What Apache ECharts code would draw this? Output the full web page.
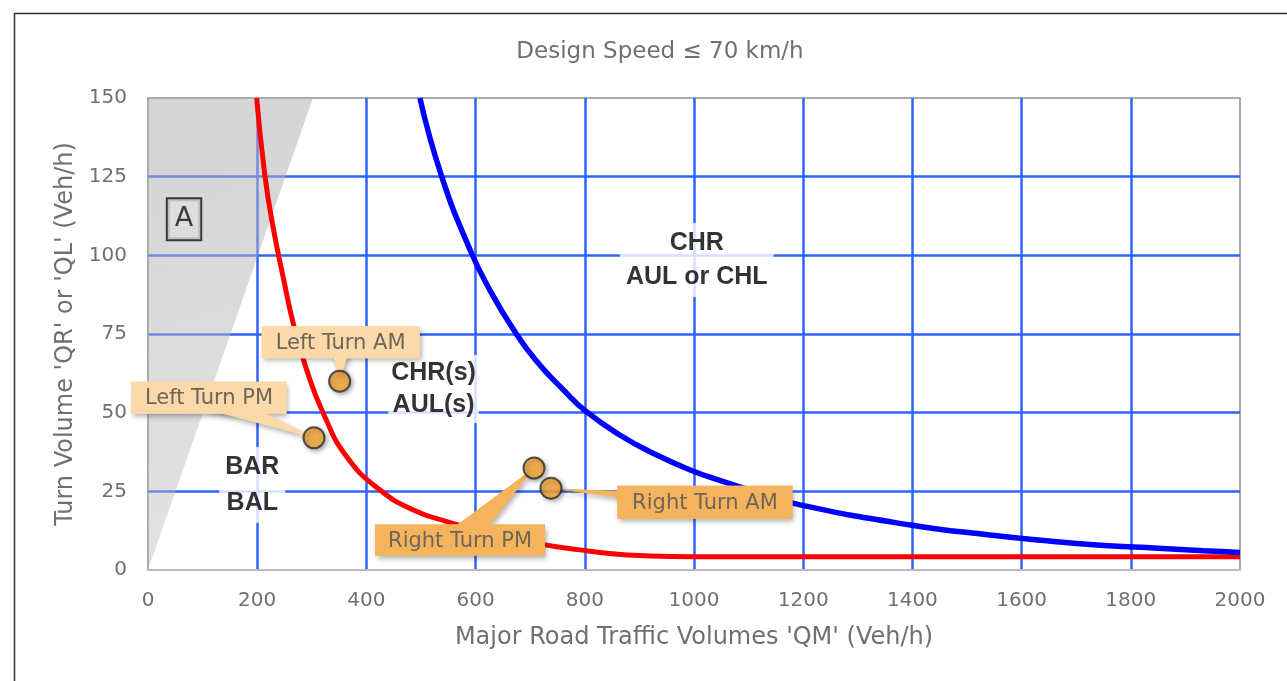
<!DOCTYPE html>
<html>
<head>
<meta charset="utf-8">
<script src="https://cdn.jsdelivr.net/npm/echarts@6/dist/echarts.min.js"></script>
<style>html,body{margin:0;padding:0;background:#fff;}#c{width:1287px;height:681px;}</style>
</head>
<body>
<div id="c"></div>
<script>
// ---- data ----
const xTicks = [0, 200, 400, 600, 800, 1000, 1200, 1400, 1600, 1800, 2000];
const yTicks = [0, 25, 50, 75, 100, 125, 150];
// red boundary curve (BAR/BAL vs CHR(s)/AUL(s))
const redCurve = [[199,150],[214,125.5],[229.5,108.6],[248,92.7],[266,78.4],[290.6,63.6],[321,49.8],[364,36],[425,25.4],[486,19.1],[547,15.4],[640,11],[730,7.9],[791,6.4],[850,5.2],[900,4.6],[1000,4.2],[1200,4.2],[1500,4.2],[2000,4.2]];
// blue boundary curve (CHR(s)/AUL(s) vs CHR / AUL or CHL)
const blueCurve = [[498,150],[538,125],[590,101.7],[626,89],[669,76.5],[711,66.5],[761,57.2],[803,50.3],[864,42.9],[925,37.1],[993,31.8],[1054,28.1],[1121,24.4],[1194,20.7],[1396,14.3],[1542,11.1],[1650,9.2],[1744,7.9],[1850,6.9],[1933,6.1],[2000,5.6]];
// shaded region A
const regionA = [[0,0],[302,150],[0,150]];
// observed turn volumes
const pointNames = ['Left Turn AM', 'Left Turn PM', 'Right Turn PM', 'Right Turn AM'];
const pointQM = [351, 304, 707, 738];
const pointQ = [60, 42, 32.4, 26];
// zone labels
const zoneTexts = ['CHR\nAUL or CHL', 'CHR(s)\nAUL(s)', 'BAR\nBAL', 'A'];
const zoneQM = [1005, 523, 191, 66];
const zoneQ = [98.5, 57.5, 27, 111.5];

// ---- styles (not data) ----
const FONT = 'DejaVu Sans';
const callout = [
  {dx: 1, dy: -39, w: 158, h: 32, bw: 11, fill: '#fbd9a8'},
  {dx: -105, dy: -40, w: 155, h: 32, bw: 12, fill: '#fbd9a8'},
  {dx: -74, dy: 72, w: 170, h: 31, bw: 14, fill: '#f5b35e'},
  {dx: 154, dy: 14, w: 175, h: 33, bw: 7, fill: '#f5b35e'}
];
const zoneStyle = [
  {fontSize: 25, lineHeight: 34, pad: [3, 6]},
  {fontSize: 25, lineHeight: 32, pad: [2, 3]},
  {fontSize: 25, lineHeight: 36, pad: [2, 6]},
  null
];

const chart = echarts.init(document.getElementById('c'));
const gridBlue = '#2f63ff';
const textGray = '#707070';

chart.setOption({
  animation: false,
  backgroundColor: '#fff',
  title: {
    text: 'Design Speed \u2264 70 km/h',
    left: 655, top: 36, textAlign: 'center',
    textStyle: {fontFamily: FONT, fontSize: 23, fontWeight: 'normal', color: textGray}
  },
  graphic: [{
    type: 'rect', left: 12, top: 11, shape: {width: 1400, height: 800},
    style: {fill: 'none', stroke: '#333', lineWidth: 1.5}, silent: true
  }],
  grid: {left: 148, right: 47, top: 98, bottom: 111, show: true, borderColor: '#aaa', borderWidth: 2, backgroundColor: 'transparent'},
  xAxis: {
    type: 'value', min: xTicks[0], max: xTicks[xTicks.length - 1], interval: 200,
    name: "Major Road Traffic Volumes 'QM' (Veh/h)", nameLocation: 'middle', nameGap: 56,
    nameTextStyle: {fontFamily: FONT, fontSize: 24, color: textGray},
    axisLine: {show: true, lineStyle: {color: '#bbb', width: 2}},
    axisTick: {show: false},
    axisLabel: {fontFamily: FONT, fontSize: 20, color: textGray, margin: 21, formatter: v => String(v)},
    splitLine: {show: true, showMinLine: false, showMaxLine: false, lineStyle: {color: gridBlue, width: 2.5}}
  },
  yAxis: {
    type: 'value', min: yTicks[0], max: yTicks[yTicks.length - 1], interval: 25,
    name: "Turn Volume 'QR' or 'QL' (Veh/h)", nameLocation: 'middle', nameGap: 70, nameRotate: 90,
    nameTextStyle: {fontFamily: FONT, fontSize: 24, color: textGray},
    axisLine: {show: false},
    axisTick: {show: false},
    axisLabel: {fontFamily: FONT, fontSize: 20, color: textGray, margin: 21},
    splitLine: {show: true, showMinLine: false, showMaxLine: false, lineStyle: {color: gridBlue, width: 2.5}}
  },
  series: [
    {
      type: 'custom', name: 'A region', z: 1, silent: true,
      data: [0],
      renderItem: function (params, api) {
        const pts = regionA.map(p => api.coord(p));
        return {
          type: 'polygon', shape: {points: pts},
          style: {
            fill: new echarts.graphic.LinearGradient(0, 0, 1, 1, [
              {offset: 0, color: 'rgba(175,175,175,0.55)'},
              {offset: 1, color: 'rgba(190,190,190,0.42)'}
            ])
          }
        };
      }
    },
    {
      type: 'line', name: 'red', data: redCurve, smooth: 0.5, symbol: 'none', clip: true, z: 3,
      lineStyle: {color: '#ff0000', width: 5}
    },
    {
      type: 'line', name: 'blue', data: blueCurve, smooth: 0.5, symbol: 'none', clip: true, z: 3,
      lineStyle: {color: '#0000ff', width: 5.5}
    },
    {
      type: 'scatter', name: 'zones', z: 4, symbolSize: 0, silent: true,
      data: zoneTexts.map((t, i) => ({
        value: [zoneQM[i], zoneQ[i]],
        label: i < 3 ? {
          show: true, position: 'inside', formatter: t,
          fontFamily: 'Liberation Sans', fontWeight: 'bold', color: '#000',
          fontSize: zoneStyle[i].fontSize, lineHeight: zoneStyle[i].lineHeight,
          backgroundColor: '#fff', padding: zoneStyle[i].pad, align: 'center'
        } : {
          show: true, position: 'inside', formatter: t,
          fontFamily: FONT, color: '#111', fontSize: 27, lineHeight: 36,
          backgroundColor: '#dedede', borderColor: '#111', borderWidth: 2, padding: [2, 7]
        }
      }))
    },
    {
      type: 'custom', name: 'callouts', z: 5, silent: true,
      data: pointQM.map((x, i) => [x, pointQ[i]]),
      renderItem: function (params, api) {
        const i = params.dataIndex;
        const p = api.coord([api.value(0), api.value(1)]);
        const o = callout[i];
        const cx = p[0] + o.dx, cy = p[1] + o.dy;
        const ang = Math.atan2(p[1] - cy, p[0] - cx);
        const nx = -Math.sin(ang) * o.bw, ny = Math.cos(ang) * o.bw;
        const sh = {shadowBlur: 5, shadowOffsetX: 2, shadowOffsetY: 3, shadowColor: 'rgba(0,0,0,0.3)'};
        const wedge = [[cx + nx, cy + ny], [cx - nx, cy - ny], [p[0], p[1]]];
        const box = {x: cx - o.w / 2, y: cy - o.h / 2, width: o.w, height: o.h};
        return {
          type: 'group', children: [
            {type: 'polygon', shape: {points: wedge}, style: Object.assign({fill: o.fill}, sh)},
            {type: 'rect', shape: box, style: Object.assign({fill: o.fill}, sh)},
            {type: 'polygon', shape: {points: wedge}, style: {fill: o.fill}},
            {type: 'rect', shape: box, style: {fill: o.fill}},
            {type: 'text', style: {text: pointNames[i], x: cx, y: cy + 1, align: 'center', verticalAlign: 'middle',
              font: '21px "' + FONT + '"', fill: '#6e6658'}}
          ]
        };
      }
    },
    {
      type: 'scatter', name: 'observed', z: 6,
      data: pointQM.map((x, i) => [x, pointQ[i]]),
      symbolSize: 21,
      itemStyle: {color: '#f7a533', borderColor: '#2a2a2a', borderWidth: 2,
        shadowBlur: 4, shadowOffsetX: 2, shadowOffsetY: 2, shadowColor: 'rgba(0,0,0,0.35)'}
    }
  ]
});
</script>
</body>
</html>
